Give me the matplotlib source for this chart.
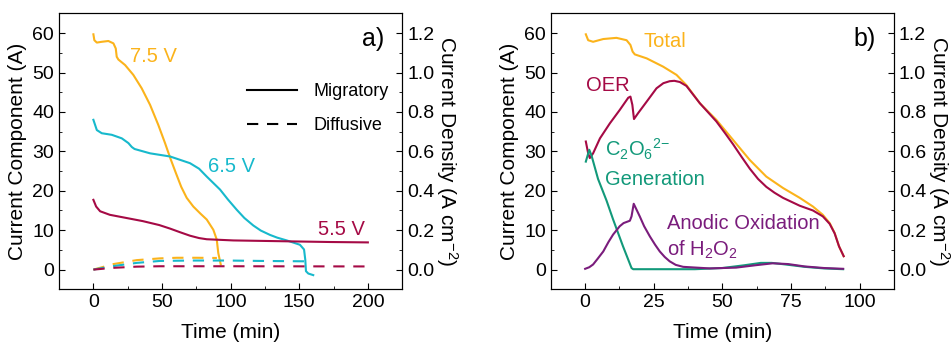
import numpy as np
import matplotlib.pyplot as plt
from matplotlib.lines import Line2D
from matplotlib.ticker import MultipleLocator

plt.rcParams['font.family'] = ['Liberation Sans', 'DejaVu Sans']
plt.rcParams['mathtext.fontset'] = 'custom'
plt.rcParams['mathtext.rm'] = 'Liberation Sans'
plt.rcParams['mathtext.it'] = 'Liberation Sans'

#-----------------panel a) data (migratory = solid, diffusive = dashed)----------------
t75 = [0, 0.7, 2.5, 6.1, 10.9, 14.6, 16.3, 17, 18.2, 23.1, 29.1, 35.2, 41.3, 47.3, 52.2, 56, 60, 64, 68, 72.8, 78, 82.6, 87.4, 89.9, 91, 92.8]
m75 = [59.7, 58.2, 57.6, 57.8, 58, 57.4, 56.1, 54, 53.3, 51.9, 49.4, 46, 41.8, 36.7, 32.1, 28.3, 24.6, 21, 18.2, 16, 14.2, 12.7, 10.1, 7.6, 4.2, 1.3]
t65 = [0, 2.5, 6.1, 13.4, 20.7, 25.5, 28, 30, 41.3, 55.9, 70.4, 77, 82.6, 92.3, 98, 104.4, 110, 116.5, 122, 128.7, 134, 140.9, 150.5, 153.5, 154.4, 154.9, 156.6, 160.2]
m65 = [38, 35.4, 34.6, 34.2, 33.3, 32.1, 31.1, 30.6, 29.5, 28.7, 27, 25.6, 23.6, 20.3, 17.8, 15.2, 13.1, 11.2, 9.9, 8.8, 8.1, 7.4, 6.3, 5.1, 2.5, -0.4, -1, -1.4]
t55 = [0, 2, 4.9, 12, 24, 36, 48, 55.9, 63, 70.4, 77, 82.6, 102, 172.4, 200]
m55 = [17.7, 16, 14.8, 13.9, 13.1, 12.3, 11.3, 10.4, 9.5, 8.6, 8, 7.7, 7.4, 7.0, 6.9]

td75 = [0, 14.6, 31.5, 48.5, 60.7, 75, 90]
d75 = [0, 1.4, 2.4, 2.85, 3.0, 3.0, 2.95]
td65 = [0, 14.6, 31.5, 48.5, 72, 97, 121, 155]
d65 = [0, 0.9, 1.7, 2.2, 2.3, 2.3, 2.2, 2.1]
td55 = [0, 14.6, 31.5, 48.5, 100, 200]
d55 = [0, 0.45, 0.75, 0.85, 0.85, 0.8]

#-----------------panel b) data----------------
t_tot = [0.25, 1.1, 2.9, 6.6, 11.4, 15.1, 16.5, 17.3, 18.1, 22.4, 28.4, 33.3, 36.9, 41.8, 47.8, 53.9, 60, 66, 72.1, 78.2, 83, 86.6, 89.1, 90.9, 92.5, 94.2]
total = [59.7, 58.2, 57.8, 58.5, 58.8, 58.2, 57, 55.3, 54.6, 53.6, 51.5, 49.4, 46.8, 42.2, 38, 32.9, 27.8, 23.6, 20.7, 18.2, 16, 13.9, 11.8, 9.3, 5.9, 3.4]
t_oer = [0.25, 1.1, 1.7, 2.9, 5.4, 9, 12.6, 15.7, 16.5, 17.2, 17.8, 19.3, 22.4, 26, 28.5, 30.8, 32.5, 34.5, 36.9, 41.8, 47.8, 51, 53.9, 57, 60, 63, 66, 69, 72.1, 78.2, 83, 86.6, 89.1, 90.9, 92.5, 94.2]
oer = [32.5, 29.5, 28.3, 29.5, 33.3, 37.1, 40.5, 43.6, 43.9, 41.8, 38.2, 39.7, 42.6, 46, 47.3, 47.8, 47.9, 47.6, 46.6, 42.2, 37.6, 34.6, 31.8, 28.6, 25.6, 23, 21, 19.5, 18.2, 16.2, 15, 13.5, 11.6, 9.2, 5.9, 3.4]
t_c2o6 = [0.25, 1.5, 2.3, 4.7, 7.8, 10.2, 13.8, 16.9, 17.5, 30, 40, 50, 58, 64, 68, 73, 80, 87, 94]
c2o6 = [27.4, 30.4, 29, 23, 17.5, 12.7, 5.9, 0.4, 0.1, 0.1, 0.1, 0.4, 1.1, 1.7, 1.7, 1.3, 0.7, 0.3, 0.1]
t_h2o2 = [0, 1.5, 2.9, 4.5, 6.6, 8.5, 10.2, 12.6, 14, 16.3, 16.9, 17.7, 19.9, 21.5, 23.6, 25.5, 27.2, 29, 30.8, 33, 35.7, 45.4, 55, 62, 68.4, 74, 80, 87, 94]
h2o2 = [0.2, 0.6, 1.3, 2.7, 4.6, 7, 8.9, 11, 11.8, 12.4, 13.5, 16.7, 13.5, 11, 8.4, 6.3, 4.6, 3.2, 2.1, 1.2, 0.7, 0.3, 0.5, 1.1, 1.6, 1.4, 0.8, 0.4, 0.2]

c_or = '#FBB31B'
c_cy = '#17B9CC'
c_cr = '#A50A45'
c_gr = '#12997A'
c_pu = '#7A1C7C'
dash = (0, (5.4, 4.2))
lw = 1.5

fig = plt.figure(figsize=(9.53, 3.44), dpi=100)
axa = fig.add_axes([0.062, 0.159, 0.360, 0.802])
axb = fig.add_axes([0.578, 0.159, 0.360, 0.802])


def style(ax, xlim, xmaj, xmin):
    ax.set_xlim(*xlim)
    ax.set_ylim(-5, 65)
    ax.xaxis.set_major_locator(MultipleLocator(xmaj))
    ax.xaxis.set_minor_locator(MultipleLocator(xmin))
    ax.yaxis.set_major_locator(MultipleLocator(10))
    ax.yaxis.set_minor_locator(MultipleLocator(5))
    ax.tick_params(which='both', direction='in', labelsize=14, top=False, right=False)
    ax.tick_params(which='major', length=4)
    ax.tick_params(which='minor', length=2.5)
    ax.set_xlabel('Time (min)', fontsize=15)
    ax.set_ylabel('Current Component (A)', fontsize=15)
    ax.xaxis.set_label_coords(0.5, -0.158)
    ax.yaxis.set_label_coords(-0.12, 0.5)
    ax.xaxis.label.set(va='center')
    ax.yaxis.label.set(va='center')
    ax2 = ax.twinx()
    ax2.set_ylim(-0.1, 1.3)
    ax2.yaxis.set_major_locator(MultipleLocator(0.2))
    ax2.yaxis.set_minor_locator(MultipleLocator(0.1))
    ax2.yaxis.set_major_formatter(plt.FormatStrFormatter('%.1f'))
    ax2.tick_params(which='both', direction='in', labelsize=14)
    ax2.tick_params(which='major', length=4)
    ax2.tick_params(which='minor', length=2.5)
    ax2.set_ylabel('Current Density (A cm$^{-2}$)', fontsize=15, rotation=-90)
    ax2.yaxis.set_label_coords(1.13, 0.5)
    ax2.yaxis.label.set(va='center', ha='center', rotation_mode='default')
    return ax2


#-----------------panel a)----------------
style(axa, (-25, 225), 50, 25)
axa.plot(t75, m75, color=c_or, lw=lw)
axa.plot(t65, m65, color=c_cy, lw=lw)
axa.plot(t55, m55, color=c_cr, lw=lw)
axa.plot(td75, d75, color=c_or, lw=lw, ls=dash)
axa.plot(td65, d65, color=c_cy, lw=lw, ls=dash)
axa.plot(td55, d55, color=c_cr, lw=lw, ls=dash)
axa.text(27, 54, '7.5 V', color=c_or, fontsize=14.5, va='center')
axa.text(83.5, 26.2, '6.5 V', color=c_cy, fontsize=14.5, va='center')
axa.text(163.5, 10.1, '5.5 V', color=c_cr, fontsize=14.5, va='center')
axa.text(212, 58.5, 'a)', fontsize=18, ha='right', va='center')
handles = [Line2D([], [], color='k', lw=lw, ls='-'),
           Line2D([], [], color='k', lw=lw, ls=dash)]
axa.legend(handles, ['Migratory', 'Diffusive'], frameon=False, fontsize=13,
           loc='upper left', bbox_to_anchor=(0.52, 0.78), borderpad=0,
           handlelength=2.8, handletextpad=0.9, labelspacing=0.95)

#-----------------panel b)----------------
style(axb, (-12.5, 112.5), 25, 12.5)
axb.plot(t_tot, total, color=c_or, lw=lw)
axb.plot(t_oer, oer, color=c_cr, lw=lw)
axb.plot(t_c2o6, c2o6, color=c_gr, lw=lw)
axb.plot(t_h2o2, h2o2, color=c_pu, lw=lw)
axb.text(21.1, 57.8, 'Total', color=c_or, fontsize=14.5, va='center')
axb.text(0.25, 46.6, 'OER', color=c_cr, fontsize=14.5, va='center')
axb.text(7.2, 30.5, r'C$_2$O$_6$$^{2\mathrm{-}}$', color=c_gr, fontsize=14.5, va='center')
axb.text(7.2, 22.8, 'Generation', color=c_gr, fontsize=14.5, va='center')
axb.text(29.9, 11.6, 'Anodic Oxidation', color=c_pu, fontsize=14.5, va='center')
axb.text(29.9, 5, r'of H$_2$O$_2$', color=c_pu, fontsize=14.5, va='center')
axb.text(106, 58.5, 'b)', fontsize=18, ha='right', va='center')

fig.savefig('out.png', dpi=100)
